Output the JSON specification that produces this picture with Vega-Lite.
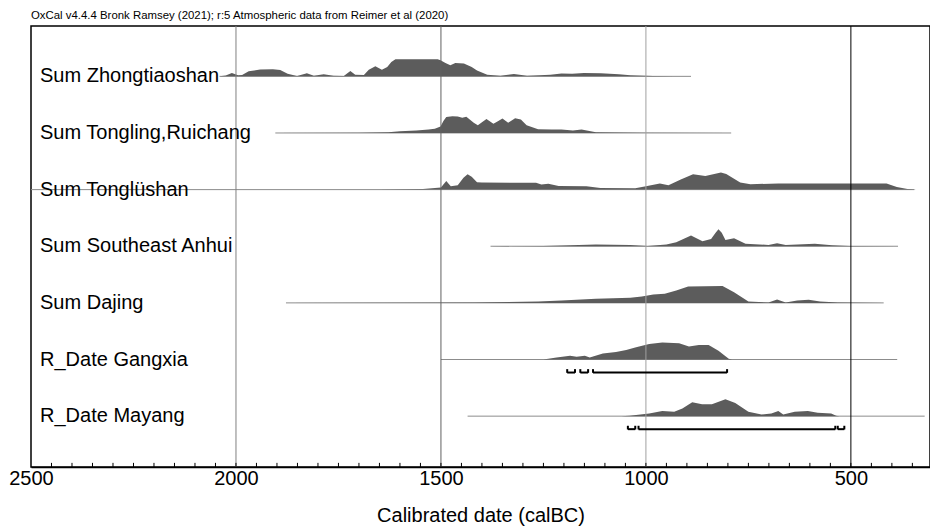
{
 "$schema": "https://vega.github.io/schema/vega-lite/v6.json",
 "width": 899,
 "height": 441,
 "autosize": {"type": "none"},
 "padding": {"left": 31, "top": 26, "right": 0, "bottom": 63},
 "background": "white",
 "config": {"view": {"stroke": "black", "strokeWidth": 1.5}, "font": "Liberation Sans"},
 "title": {"text": "OxCal v4.4.4 Bronk Ramsey (2021); r:5 Atmospheric data from Reimer et al (2020)", "anchor": "start", "frame": "group", "fontSize": 11.4, "fontWeight": "normal", "color": "black", "offset": 4, "font": "Liberation Sans"},
 "datasets": {
  "lines": [
   {"s": 0, "name": "Sum Zhongtiaoshan", "from": 2040, "to": 890},
   {"s": 1, "name": "Sum Tongling,Ruichang", "from": 1904, "to": 792},
   {"s": 2, "name": "Sum Tonglüshan", "from": 2500, "to": 345},
   {"s": 3, "name": "Sum Southeast Anhui", "from": 1379, "to": 385},
   {"s": 4, "name": "Sum Dajing", "from": 1878, "to": 420},
   {"s": 5, "name": "R_Date Gangxia", "from": 1500, "to": 387},
   {"s": 6, "name": "R_Date Mayang", "from": 1435, "to": 320}
  ],
  "ranges": [
   {"s": 5, "from": 1192, "to": 1173},
   {"s": 5, "from": 1160, "to": 1141},
   {"s": 5, "from": 1129, "to": 802},
   {"s": 6, "from": 1044, "to": 1026},
   {"s": 6, "from": 1018, "to": 538},
   {"s": 6, "from": 532, "to": 516}
  ],
  "minor": [
   {"t":2450},{"t":2400},{"t":2350},{"t":2300},{"t":2250},{"t":2200},{"t":2150},{"t":2100},{"t":2050},{"t":2000},
   {"t":1950},{"t":1900},{"t":1850},{"t":1800},{"t":1750},{"t":1700},{"t":1650},{"t":1600},{"t":1550},{"t":1500},
   {"t":1450},{"t":1400},{"t":1350},{"t":1300},{"t":1250},{"t":1200},{"t":1150},{"t":1100},{"t":1050},{"t":1000},
   {"t":950},{"t":900},{"t":850},{"t":800},{"t":750},{"t":700},{"t":650},{"t":600},{"t":550},{"t":500},
   {"t":450},{"t":400},{"t":350}
  ],
  "dens": [
   {"s":0,"yr":2040,"d":0},{"s":0,"yr":2025,"d":0.05},{"s":0,"yr":2010,"d":0.2},{"s":0,"yr":1995,"d":0.06},{"s":0,"yr":1985,"d":0.08},{"s":0,"yr":1969,"d":0.3},{"s":0,"yr":1941,"d":0.4},{"s":0,"yr":1910,"d":0.42},{"s":0,"yr":1892,"d":0.38},{"s":0,"yr":1874,"d":0.16},{"s":0,"yr":1851,"d":0.02},{"s":0,"yr":1827,"d":0.18},{"s":0,"yr":1810,"d":0.04},{"s":0,"yr":1786,"d":0.12},{"s":0,"yr":1762,"d":0.04},{"s":0,"yr":1737,"d":0.02},{"s":0,"yr":1721,"d":0.31},{"s":0,"yr":1709,"d":0.1},{"s":0,"yr":1688,"d":0.08},{"s":0,"yr":1676,"d":0.39},{"s":0,"yr":1660,"d":0.59},{"s":0,"yr":1644,"d":0.39},{"s":0,"yr":1631,"d":0.55},{"s":0,"yr":1621,"d":0.85},{"s":0,"yr":1611,"d":1},{"s":0,"yr":1508,"d":1},{"s":0,"yr":1501,"d":0.95},{"s":0,"yr":1489,"d":0.78},{"s":0,"yr":1477,"d":0.65},{"s":0,"yr":1465,"d":0.78},{"s":0,"yr":1444,"d":0.75},{"s":0,"yr":1425,"d":0.55},{"s":0,"yr":1412,"d":0.35},{"s":0,"yr":1387,"d":0.1},{"s":0,"yr":1355,"d":0.04},{"s":0,"yr":1322,"d":0.14},{"s":0,"yr":1290,"d":0.04},{"s":0,"yr":1260,"d":0.06},{"s":0,"yr":1233,"d":0.1},{"s":0,"yr":1206,"d":0.17},{"s":0,"yr":1180,"d":0.15},{"s":0,"yr":1151,"d":0.2},{"s":0,"yr":1110,"d":0.18},{"s":0,"yr":1066,"d":0.12},{"s":0,"yr":1038,"d":0.06},{"s":0,"yr":982,"d":0.02},{"s":0,"yr":930,"d":0.01},{"s":0,"yr":893,"d":0},
   {"s":1,"yr":1904,"d":0},{"s":1,"yr":1700,"d":0.01},{"s":1,"yr":1628,"d":0.05},{"s":1,"yr":1600,"d":0.1},{"s":1,"yr":1560,"d":0.15},{"s":1,"yr":1530,"d":0.2},{"s":1,"yr":1515,"d":0.25},{"s":1,"yr":1501,"d":0.38},{"s":1,"yr":1494,"d":0.7},{"s":1,"yr":1487,"d":0.94},{"s":1,"yr":1472,"d":0.98},{"s":1,"yr":1459,"d":0.97},{"s":1,"yr":1448,"d":0.9},{"s":1,"yr":1438,"d":0.95},{"s":1,"yr":1420,"d":0.6},{"s":1,"yr":1410,"d":0.45},{"s":1,"yr":1389,"d":0.82},{"s":1,"yr":1372,"d":0.55},{"s":1,"yr":1360,"d":0.7},{"s":1,"yr":1350,"d":0.85},{"s":1,"yr":1336,"d":0.6},{"s":1,"yr":1319,"d":0.87},{"s":1,"yr":1305,"d":0.8},{"s":1,"yr":1291,"d":0.45},{"s":1,"yr":1263,"d":0.22},{"s":1,"yr":1230,"d":0.2},{"s":1,"yr":1206,"d":0.2},{"s":1,"yr":1178,"d":0.15},{"s":1,"yr":1157,"d":0.2},{"s":1,"yr":1122,"d":0.05},{"s":1,"yr":1010,"d":0.02},{"s":1,"yr":792,"d":0},
   {"s":2,"yr":1650,"d":0},{"s":2,"yr":1544,"d":0.04},{"s":2,"yr":1500,"d":0.12},{"s":2,"yr":1487,"d":0.5},{"s":2,"yr":1476,"d":0.2},{"s":2,"yr":1459,"d":0.26},{"s":2,"yr":1445,"d":0.7},{"s":2,"yr":1435,"d":0.9},{"s":2,"yr":1425,"d":0.75},{"s":2,"yr":1412,"d":0.44},{"s":2,"yr":1400,"d":0.42},{"s":2,"yr":1268,"d":0.4},{"s":2,"yr":1255,"d":0.3},{"s":2,"yr":1238,"d":0.34},{"s":2,"yr":1213,"d":0.22},{"s":2,"yr":1145,"d":0.2},{"s":2,"yr":1111,"d":0.1},{"s":2,"yr":1026,"d":0.08},{"s":2,"yr":1000,"d":0.2},{"s":2,"yr":966,"d":0.36},{"s":2,"yr":945,"d":0.26},{"s":2,"yr":915,"d":0.6},{"s":2,"yr":885,"d":0.9},{"s":2,"yr":855,"d":0.8},{"s":2,"yr":817,"d":1},{"s":2,"yr":804,"d":0.92},{"s":2,"yr":770,"d":0.42},{"s":2,"yr":745,"d":0.32},{"s":2,"yr":677,"d":0.36},{"s":2,"yr":600,"d":0.36},{"s":2,"yr":413,"d":0.36},{"s":2,"yr":388,"d":0.16},{"s":2,"yr":362,"d":0.04},{"s":2,"yr":340,"d":0},
   {"s":3,"yr":1379,"d":0},{"s":3,"yr":1250,"d":0.02},{"s":3,"yr":1206,"d":0.04},{"s":3,"yr":1122,"d":0.1},{"s":3,"yr":1038,"d":0.08},{"s":3,"yr":996,"d":0.02},{"s":3,"yr":950,"d":0.1},{"s":3,"yr":926,"d":0.24},{"s":3,"yr":890,"d":0.63},{"s":3,"yr":862,"d":0.3},{"s":3,"yr":841,"d":0.43},{"s":3,"yr":830,"d":0.8},{"s":3,"yr":823,"d":1},{"s":3,"yr":815,"d":0.8},{"s":3,"yr":806,"d":0.37},{"s":3,"yr":785,"d":0.47},{"s":3,"yr":757,"d":0.14},{"s":3,"yr":701,"d":0.08},{"s":3,"yr":680,"d":0.18},{"s":3,"yr":659,"d":0.08},{"s":3,"yr":588,"d":0.14},{"s":3,"yr":546,"d":0.06},{"s":3,"yr":504,"d":0.02},{"s":3,"yr":385,"d":0},
   {"s":4,"yr":1878,"d":0},{"s":4,"yr":1417,"d":0.02},{"s":4,"yr":1263,"d":0.08},{"s":4,"yr":1206,"d":0.14},{"s":4,"yr":1122,"d":0.24},{"s":4,"yr":1038,"d":0.3},{"s":4,"yr":1010,"d":0.37},{"s":4,"yr":982,"d":0.5},{"s":4,"yr":954,"d":0.53},{"s":4,"yr":926,"d":0.73},{"s":4,"yr":897,"d":0.96},{"s":4,"yr":813,"d":1},{"s":4,"yr":785,"d":0.63},{"s":4,"yr":750,"d":0.08},{"s":4,"yr":701,"d":0.02},{"s":4,"yr":680,"d":0.2},{"s":4,"yr":659,"d":0.02},{"s":4,"yr":631,"d":0.14},{"s":4,"yr":603,"d":0.18},{"s":4,"yr":575,"d":0.08},{"s":4,"yr":532,"d":0.02},{"s":4,"yr":420,"d":0},
   {"s":5,"yr":1500,"d":0},{"s":5,"yr":1250,"d":0},{"s":5,"yr":1218,"d":0.12},{"s":5,"yr":1185,"d":0.22},{"s":5,"yr":1169,"d":0.16},{"s":5,"yr":1149,"d":0.22},{"s":5,"yr":1137,"d":0.12},{"s":5,"yr":1105,"d":0.36},{"s":5,"yr":1073,"d":0.44},{"s":5,"yr":1048,"d":0.56},{"s":5,"yr":1024,"d":0.72},{"s":5,"yr":992,"d":0.92},{"s":5,"yr":960,"d":1},{"s":5,"yr":919,"d":0.96},{"s":5,"yr":895,"d":0.76},{"s":5,"yr":871,"d":0.86},{"s":5,"yr":847,"d":0.86},{"s":5,"yr":823,"d":0.52},{"s":5,"yr":798,"d":0.04},{"s":5,"yr":790,"d":0},
   {"s":6,"yr":1435,"d":0},{"s":6,"yr":1060,"d":0},{"s":6,"yr":1040,"d":0.02},{"s":6,"yr":992,"d":0.16},{"s":6,"yr":960,"d":0.3},{"s":6,"yr":931,"d":0.26},{"s":6,"yr":911,"d":0.45},{"s":6,"yr":887,"d":0.82},{"s":6,"yr":863,"d":0.7},{"s":6,"yr":839,"d":0.7},{"s":6,"yr":806,"d":1},{"s":6,"yr":782,"d":0.78},{"s":6,"yr":750,"d":0.26},{"s":6,"yr":718,"d":0.1},{"s":6,"yr":694,"d":0.16},{"s":6,"yr":677,"d":0.31},{"s":6,"yr":665,"d":0.1},{"s":6,"yr":637,"d":0.26},{"s":6,"yr":605,"d":0.31},{"s":6,"yr":581,"d":0.2},{"s":6,"yr":548,"d":0.16},{"s":6,"yr":536,"d":0.02},{"s":6,"yr":528,"d":0}
  ],
  "grid": [{"g": 2000}, {"g": 1500}, {"g": 1000}, {"g": 500}]
 },
 "layer": [
  {
   "data": {"name": "lines"},
   "mark": {"type": "rule", "stroke": "#8c8c8c", "strokeWidth": 1},
   "encoding": {
    "x": {"field": "from", "type": "quantitative",
     "scale": {"domain": [307, 2500], "reverse": true, "nice": false, "zero": false},
     "axis": {
      "values": [2500, 2000, 1500, 1000, 500],
      "format": "d",
      "ticks": false,
      "domainColor": "black", "domainWidth": 1.5,
      "labelFontSize": 20, "labelColor": "black", "labelPadding": 1, "labelFlush": false, "labelOverlap": false, "labelFont": "Liberation Sans",
      "grid": false,
      "title": "Calibrated date (calBC)", "titleFontSize": 20, "titleFontWeight": "normal", "titleColor": "black", "titlePadding": 17, "titleFont": "Liberation Sans"
     }},
    "x2": {"field": "to"},
    "y": {"field": "s", "type": "quantitative", "scale": {"domain": [-0.889, 6.898], "reverse": true, "nice": false, "zero": false}, "axis": null}
   }
  },
  {
   "data": {"name": "dens"},
   "transform": [{"calculate": "datum.s - datum.d * 0.3", "as": "top"}],
   "mark": {"type": "area", "fill": "#5c5c5c", "opacity": 1},
   "encoding": {
    "x": {"field": "yr", "type": "quantitative"},
    "y": {"field": "top", "type": "quantitative"},
    "y2": {"field": "s"},
    "detail": {"field": "s", "type": "nominal"}
   }
  },
  {
   "data": {"name": "grid"},
   "mark": {"type": "rule", "strokeWidth": 1},
   "encoding": {
    "x": {"field": "g", "type": "quantitative"},
    "stroke": {"condition": [{"test": "datum.g === 500", "value": "black"}, {"test": "datum.g === 1500", "value": "#606060"}, {"test": "datum.g === 1000", "value": "#a0a0a0"}], "value": "#808080"}
   }
  },
  {
   "data": {"name": "minor"},
   "mark": {"type": "rule", "stroke": "black", "strokeWidth": 1},
   "encoding": {
    "x": {"field": "t", "type": "quantitative"},
    "y": {"datum": 6.898, "type": "quantitative"},
    "y2": {"datum": 6.825}
   }
  },
  {
   "data": {"name": "ranges"},
   "transform": [{"calculate": "datum.s + 0.23", "as": "yb"}],
   "mark": {"type": "rule", "stroke": "black", "strokeWidth": 2},
   "encoding": {
    "x": {"field": "from", "type": "quantitative"},
    "x2": {"field": "to"},
    "y": {"field": "yb", "type": "quantitative"}
   }
  },
  {
   "data": {"name": "ranges"},
   "transform": [
    {"fold": ["from", "to"], "as": ["k", "v"]},
    {"calculate": "datum.s + 0.235", "as": "yb"},
    {"calculate": "datum.s + 0.17", "as": "yt"}
   ],
   "mark": {"type": "rule", "stroke": "black", "strokeWidth": 2},
   "encoding": {
    "x": {"field": "v", "type": "quantitative"},
    "y": {"field": "yb", "type": "quantitative"},
    "y2": {"field": "yt"}
   }
  },
  {
   "data": {"name": "lines"},
   "mark": {"type": "text", "align": "left", "baseline": "middle", "fontSize": 20, "font": "Liberation Sans", "color": "black"},
   "encoding": {
    "x": {"datum": 2478, "type": "quantitative"},
    "y": {"field": "s", "type": "quantitative"},
    "text": {"field": "name"}
   }
  }
 ]
}
